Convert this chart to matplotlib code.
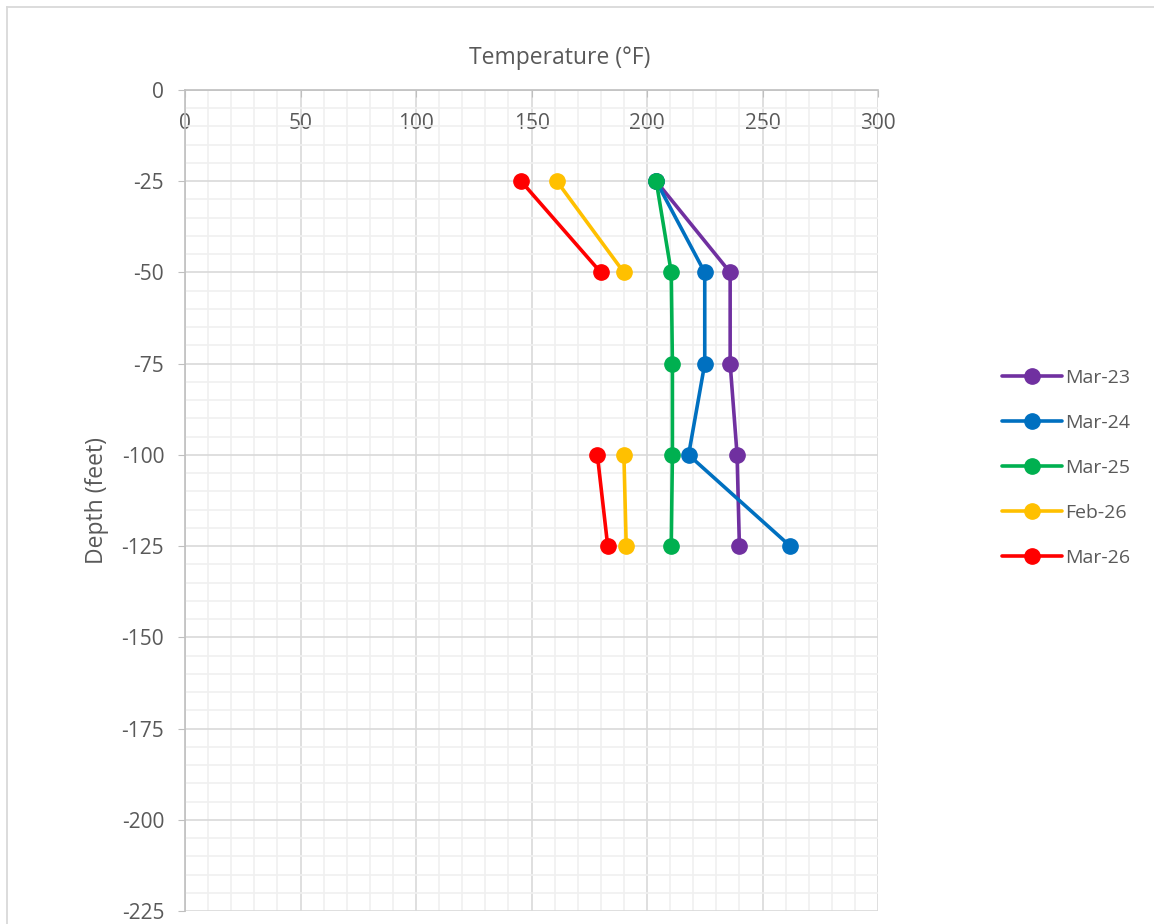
import matplotlib
matplotlib.use("Agg")
import matplotlib.pyplot as plt
from matplotlib.lines import Line2D
import numpy as np

depth = [-25, -50, -75, -100, -125]
series_names = ["Mar-23", "Mar-24", "Mar-25", "Feb-26", "Mar-26"]
mar23 = [204, 236, 236, 239, 240]
mar24 = [204, 225, 225, 218, 262]
mar25 = [204, 210.5, 211, 211, 210.5]
feb26 = [161, 190, np.nan, 190, 191]
mar26 = [145.5, 180, np.nan, 178.5, 183]
colors = ["#7030A0", "#0070C0", "#00B050", "#FFC000", "#FF0000"]

txt = "#595959"
plt.rcParams['font.family'] = ['Open Sans', 'DejaVu Sans']
plt.rcParams['axes.unicode_minus'] = False

fig = plt.figure(figsize=(11.54, 9.24), dpi=100)
ax = fig.add_axes([185/1154, 1-911/924, (878-185)/1154, (911-90)/924])

for name, vals, c in zip(series_names, [mar23, mar24, mar25, feb26, mar26], colors):
    ax.plot(vals, depth, color=c, lw=2.6, marker="o", ms=11, label=name,
            solid_capstyle="round", zorder=3)

ax.set_xlim(0, 300)
ax.set_ylim(-225, 0)
ax.set_xticks(np.arange(0, 301, 50))
ax.set_yticks(np.arange(-225, 1, 25))
ax.set_xticks(np.arange(0, 301, 10), minor=True)
ax.set_yticks(np.arange(-225, 1, 5), minor=True)
ax.grid(which="major", color="#D9D9D9", lw=1.2, zorder=1)
ax.grid(which="minor", color="#F0F0F0", lw=1.2, zorder=0)

ax.xaxis.tick_top()
ax.tick_params(axis="x", which="major", direction="in", length=5, color="#BFBFBF",
               labelsize=15, labelcolor=txt, pad=-32)
ax.tick_params(axis="y", which="major", direction="out", length=5, color="#BFBFBF",
               labelsize=15, labelcolor=txt, pad=10)
ax.tick_params(which="minor", length=0)
for lbl in ax.get_xticklabels():
    lbl.set_verticalalignment("bottom")

for s in ["right", "bottom"]:
    ax.spines[s].set_visible(False)
ax.spines["top"].set_color("#BFBFBF")
ax.spines["left"].set_color("#BFBFBF")
ax.spines["top"].set_linewidth(1.2)
ax.spines["left"].set_linewidth(1.2)

fig.text(560/1154, 1-58/924, "Temperature (°F)", ha="center", va="center",
         fontsize=16.5, color=txt)
fig.text(97/1154, 1-(90+911)/2/924, "Depth (feet)", ha="center", va="center",
         rotation=90, fontsize=16.5, color=txt)

leg = fig.legend(loc="center left", bbox_to_anchor=(984/1154, 1-468/924),
                 frameon=False, fontsize=14, labelcolor=txt, handlelength=3.1,
                 labelspacing=1.39, handletextpad=0.15)

fig.add_artist(Line2D([6.5/1154, 1], [1-6.5/924, 1-6.5/924], color="#D9D9D9", lw=1.3))
fig.add_artist(Line2D([6.5/1154, 6.5/1154], [0, 1-6.5/924], color="#D9D9D9", lw=1.3))

fig.savefig("out.png", dpi=100)
